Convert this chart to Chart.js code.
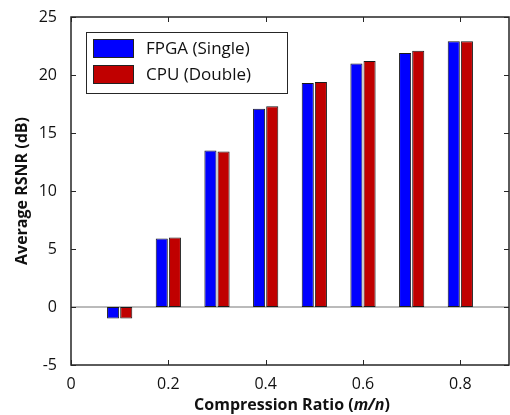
<!DOCTYPE html>
<html>
<head>
<meta charset="utf-8">
<script src="https://cdn.jsdelivr.net/npm/chart.js@4"></script>
<style>
  html, body { margin: 0; padding: 0; background: #fff; }
  #wrap { width: 510px; height: 415px; }
</style>
</head>
<body>
<div id="wrap"><canvas id="rsnrChart"></canvas></div>
<script>
// compression ratio (m/n)
const ratios = [0.1, 0.2, 0.3, 0.4, 0.5, 0.6, 0.7, 0.8];
// average RSNR (dB)
const fpgaSingle = [-1.0, 5.9, 13.5, 17.1, 19.3, 21.0, 21.9, 22.9];
const cpuDouble = [-1.0, 6.0, 13.4, 17.3, 19.4, 21.2, 22.1, 22.9];

const xTicks = [0, 0.2, 0.4, 0.6, 0.8];
const yTicks = [-5, 0, 5, 10, 15, 20, 25];

const seriesNames = ['FPGA (Single)', 'CPU (Double)'];
const seriesColors = ['#0000ff', '#c00000'];

const FONT = '"Open Sans", sans-serif';

// box, inward ticks, zero line, legend and axis titles (MATLAB look)
const matlabAxes = {
    id: 'matlabAxes',
    beforeDatasetsDraw(chart) {
        const { ctx, chartArea: a, scales } = chart;
        const y0 = scales.y.getPixelForValue(0);
        ctx.save();
        ctx.strokeStyle = '#777';
        ctx.lineWidth = 1;
        ctx.beginPath();
        ctx.moveTo(a.left, y0);
        ctx.lineTo(a.right, y0);
        ctx.stroke();
        ctx.restore();
    },
    afterDraw(chart) {
        const { ctx, chartArea: a, scales } = chart;
        ctx.save();
        ctx.strokeStyle = '#262626';
        ctx.lineWidth = 1.5;
        ctx.strokeRect(a.left, a.top, a.right - a.left, a.bottom - a.top);

        ctx.lineWidth = 1;
        ctx.beginPath();
        const len = 5;
        xTicks.forEach(v => {
            const x = Math.round(scales.x.getPixelForValue(v)) + 0.5;
            ctx.moveTo(x, a.bottom); ctx.lineTo(x, a.bottom - len);
            ctx.moveTo(x, a.top); ctx.lineTo(x, a.top + len);
        });
        yTicks.forEach(v => {
            const y = Math.round(scales.y.getPixelForValue(v)) + 0.5;
            ctx.moveTo(a.left, y); ctx.lineTo(a.left + len, y);
            ctx.moveTo(a.right, y); ctx.lineTo(a.right - len, y);
        });
        ctx.stroke();

        // legend
        const lx = 86, ly = 32, lw = 201, lh = 61;
        ctx.fillStyle = '#fff';
        ctx.fillRect(lx, ly, lw, lh);
        ctx.strokeStyle = '#262626';
        ctx.strokeRect(lx + 0.5, ly + 0.5, lw, lh);
        ctx.font = '17px ' + FONT;
        ctx.textBaseline = 'middle';
        seriesNames.forEach((name, i) => {
            const sy = 39 + i * 26;
            ctx.fillStyle = seriesColors[i];
            ctx.fillRect(93, sy, 40, 18);
            ctx.strokeStyle = '#222';
            ctx.strokeRect(93.5, sy + 0.5, 40, 18);
            ctx.fillStyle = '#111';
            ctx.fillText(name, 146, sy + 10);
        });

        // axis titles
        ctx.fillStyle = '#111';
        ctx.textBaseline = 'middle';
        ctx.save();
        ctx.translate(22, (a.top + a.bottom) / 2);
        ctx.rotate(-Math.PI / 2);
        ctx.textAlign = 'center';
        ctx.font = 'bold 16px ' + FONT;
        ctx.fillText('Average RSNR (dB)', 0, 0);
        ctx.restore();

        const parts = [
            ['Compression Ratio (', 'bold 16px ' + FONT],
            ['m/n', 'italic bold 16px ' + FONT],
            [')', 'bold 16px ' + FONT]
        ];
        let total = 0;
        parts.forEach(p => { ctx.font = p[1]; total += ctx.measureText(p[0]).width; });
        let px = (a.left + a.right) / 2 - total / 2 + 2;
        ctx.textAlign = 'left';
        parts.forEach(p => {
            ctx.font = p[1];
            ctx.fillText(p[0], px, 405);
            px += ctx.measureText(p[0]).width;
        });
        ctx.restore();
    }
};

new Chart(document.getElementById('rsnrChart'), {
    type: 'bar',
    data: {
        datasets: [
            {
                label: seriesNames[0],
                data: ratios.map((r, i) => ({ x: r, y: fpgaSingle[i] })),
                backgroundColor: seriesColors[0],
                borderColor: '#1a1a1a',
                borderWidth: 1,
                borderSkipped: false
            },
            {
                label: seriesNames[1],
                data: ratios.map((r, i) => ({ x: r, y: cpuDouble[i] })),
                backgroundColor: seriesColors[1],
                borderColor: '#1a1a1a',
                borderWidth: 1,
                borderSkipped: false
            }
        ]
    },
    options: {
        responsive: true,
        maintainAspectRatio: false,
        animation: false,
        categoryPercentage: 0.54,
        barPercentage: 0.92,
        layout: { padding: { top: 17, right: 1, left: 0, bottom: 0 } },
        plugins: {
            legend: { display: false },
            tooltip: { enabled: false }
        },
        scales: {
            x: {
                type: 'linear',
                min: 0,
                max: 0.9,
                offset: false,
                grid: { display: false },
                border: { display: false },
                afterBuildTicks: s => { s.ticks = xTicks.map(v => ({ value: v })); },
                afterFit: s => { s.height = 50; },
                ticks: {
                    autoSkip: false,
                    maxRotation: 0,
                    padding: 2,
                    color: '#111',
                    font: { family: FONT, size: 16 },
                    callback: v => String(v)
                }
            },
            y: {
                min: -5,
                max: 25,
                grid: { display: false },
                border: { display: false },
                afterBuildTicks: s => { s.ticks = yTicks.map(v => ({ value: v })); },
                afterFit: s => { s.width = 71; },
                ticks: {
                    padding: 6,
                    color: '#111',
                    font: { family: FONT, size: 16 }
                }
            }
        }
    },
    plugins: [matlabAxes]
});
</script>
</body>
</html>
